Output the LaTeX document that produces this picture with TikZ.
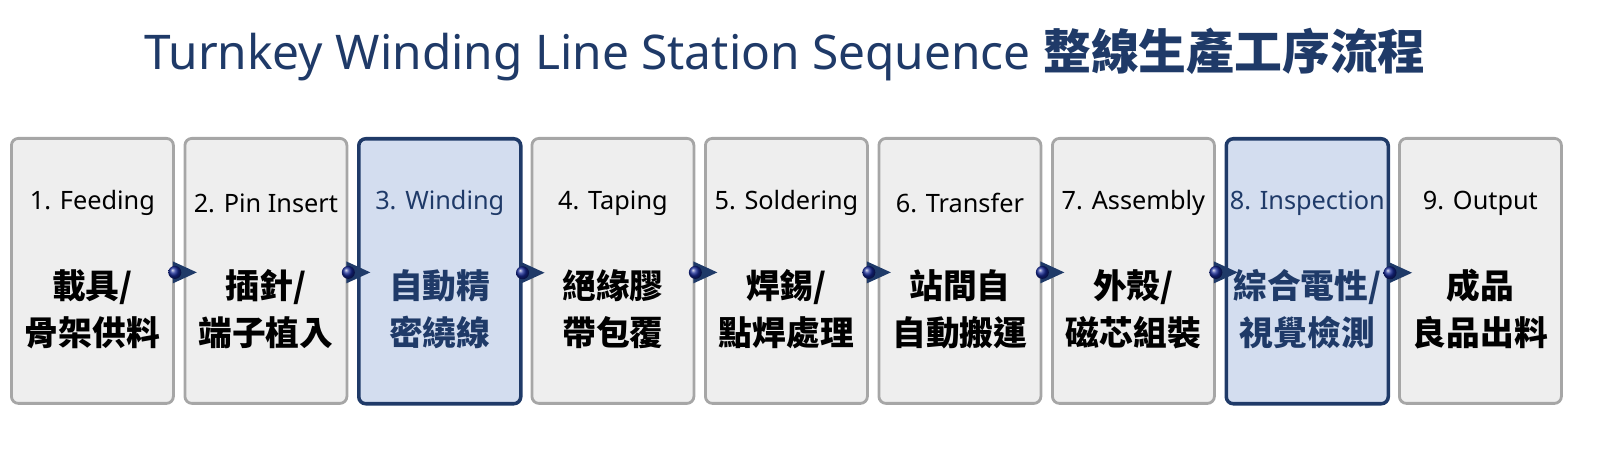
\documentclass[tikz,border=0pt]{standalone}
\usepackage{fontspec}
\setmainfont{Noto Sans}
\newfontfamily\cjk{Noto Sans CJK TC}
\usetikzlibrary{calc}
\definecolor{navy}{HTML}{1F3A68}
\definecolor{boxgray}{HTML}{EEEEEE}
\definecolor{hilite}{HTML}{D3DDEF}
\tikzset{
  station/.style={draw=gray!70, line width=0.8pt, fill=boxgray, rounded corners=2pt,
    minimum width=1.62cm, minimum height=2.65cm, anchor=north west, inner sep=0pt},
  hot/.style={station, draw=navy, fill=hilite, line width=1pt},
  lab/.style={font=\fontsize{7.2}{8}\selectfont},
  zh/.style={font=\cjk\bfseries\fontsize{9.6}{13.4}\selectfont, align=center}
}
\begin{document}
\begin{tikzpicture}
\useasboundingbox (0,0) rectangle (16,4.54);
\node[font=\fontsize{13.6}{15}\selectfont, text=navy] (title) at (7.85,3.99)
  {Turnkey Winding Line Station Sequence {\cjk\bfseries 整線生產工序流程}};
% stations
\foreach \i/\en/\zha/\zhb/\st in {1/1. Feeding/{載具/}/骨架供料/station,
  2/2. Pin Insert/{插針/}/端子植入/station, 3/3. Winding/自動精/密繞線/hot,
  4/4. Taping/絕緣膠/帶包覆/station, 5/5. Soldering/{焊錫/}/點焊處理/station,
  6/6. Transfer/站間自/自動搬運/station, 7/7. Assembly/{外殼/}/磁芯組裝/station,
  8/8. Inspection/{綜合電性/}/視覺檢測/hot, 9/9. Output/成品/良品出料/station}
{
  \node[\st] (b\i) at ({0.1+1.735*(\i-1)},3.17) {};
  \ifnum\i=3 \def\tc{navy}\else\ifnum\i=8 \def\tc{navy}\else\def\tc{black}\fi\fi
  \node[lab, text=\tc] (l\i) at ($(b\i.north)+(0,-0.66)$) {\en};
  \node[zh, text=\tc] (z\i) at ($(b\i.north)+(0,-1.72)$) {\zha\\\zhb};
}
% connectors
\foreach \i in {1,...,8}
{
  \coordinate (c\i) at ($(b\i.east)+(0,-0.015)$);
  \fill[navy] ($(c\i)+(-0.02,0.11)$) -- ($(c\i)+(0.22,0)$) -- ($(c\i)+(-0.02,-0.11)$) -- cycle;
  \shade[ball color=blue!30!navy] (c\i) circle (0.065);
}
\end{tikzpicture}
\end{document}
